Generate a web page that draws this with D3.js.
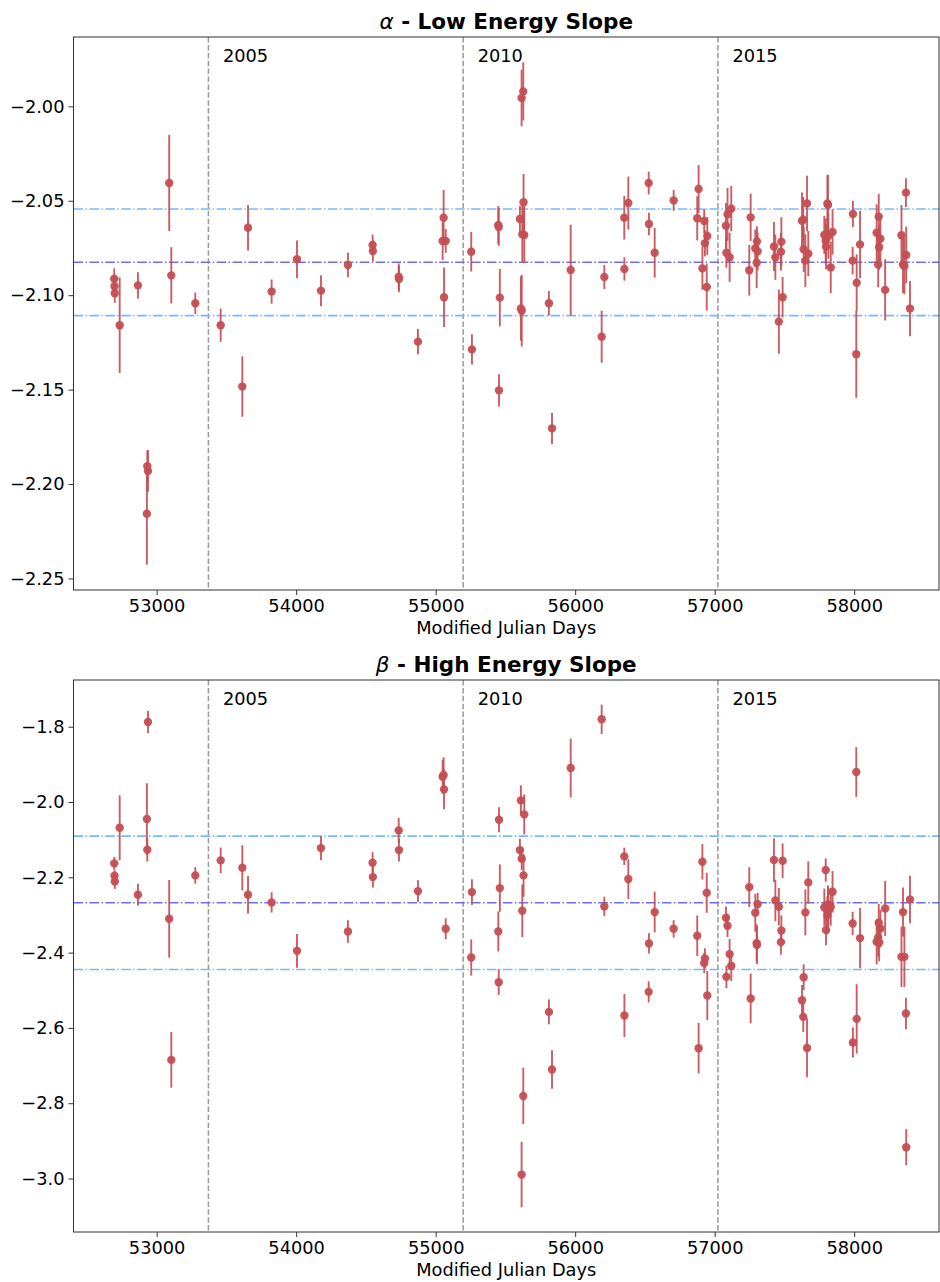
<!DOCTYPE html>
<html>
<head>
<meta charset="utf-8">
<script src="https://cdn.jsdelivr.net/npm/d3@7"></script>
<style>
  html, body { margin: 0; padding: 0; background: #fff; }
  svg text { font-family: "DejaVu Sans", sans-serif; }
</style>
</head>
<body>
<svg id="chart" width="940" height="1282"></svg>
<script>
// Observation epochs (MJD) with fitted low/high energy slopes and 1-sigma errors
const mjd = [
  52696, 52698, 52700, 52735, 52866, 52930, 52933, 52938, 53090, 53105,
  53277, 53459, 53614, 53655, 53824, 54006, 54178, 54371, 54548, 54550,
  54735, 54737, 54873, 55050, 55057, 55060, 55072, 55255, 55260, 55449,
  55452, 55454, 55460, 55604, 55611, 55616, 55617, 55621, 55628, 55630,
  55635, 55812, 55834, 55968, 56190, 56209, 56352, 56353, 56381, 56527,
  56529, 56570, 56706, 56875, 56885, 56912, 56925, 56930, 56943, 56947,
  57081, 57084, 57092, 57107, 57119, 57248, 57258, 57291, 57301, 57303,
  57308, 57425, 57435, 57460, 57475, 57478, 57487, 57626, 57635, 57638,
  57650, 57662, 57671, 57786, 57796, 57798, 57808, 57812, 57815, 57832,
  57845, 57989, 57991, 58015, 58018, 58042, 58161, 58172, 58176, 58179,
  58188, 58222, 58339, 58350, 58360, 58371, 58373, 58400
];

const alpha = [
  -2.0913, -2.0953, -2.0990, -2.1159, -2.0948, -2.2157, -2.1906, -2.1931, -2.0406, -2.0895,
  -2.1043, -2.1159, -2.1484, -2.0643, -2.0981, -2.0810, -2.0976, -2.0840, -2.0734, -2.0766,
  -2.0902, -2.0914, -2.1246, -2.0713, -2.0590, -2.1011, -2.0713, -2.0770, -2.1287, -2.0628,
  -2.0639, -2.1504, -2.1013, -2.0597, -2.1070, -1.9956, -2.1082, -2.0678, -1.9921, -2.0508,
  -2.0681, -2.1043, -2.1705, -2.0867, -2.1220, -2.0904, -2.0590, -2.0861, -2.0512, -2.0406,
  -2.0623, -2.0775, -2.0498, -2.0593, -2.0438, -2.0858, -2.0607, -2.0725, -2.0957, -2.0687,
  -2.0632, -2.0775, -2.0572, -2.0799, -2.0542, -2.0868, -2.0588, -2.0752, -2.0828, -2.0715,
  -2.0768, -2.0742, -2.0799, -2.1140, -2.0770, -2.0717, -2.1011, -2.0606, -2.0600, -2.0757,
  -2.0817, -2.0514, -2.0780, -2.0681, -2.0713, -2.0743, -2.0514, -2.0522, -2.0687, -2.0853,
  -2.0665, -2.0817, -2.0570, -2.1313, -2.0934, -2.0731, -2.0669, -2.0838, -2.0584, -2.0746,
  -2.0701, -2.0972, -2.0683, -2.0838, -2.0845, -2.0457, -2.0787, -2.1071
];

const alphaErr = [
  0.0055, 0.0050, 0.0050, 0.0253, 0.0070, 0.0270, 0.0085, 0.0110, 0.0254, 0.0149,
  0.0057, 0.0088, 0.0160, 0.0120, 0.0064, 0.0100, 0.0082, 0.0065, 0.0055, 0.0055,
  0.0070, 0.0070, 0.0067, 0.0100, 0.0147, 0.0157, 0.0063, 0.0105, 0.0080, 0.0100,
  0.0100, 0.0085, 0.0152, 0.0070, 0.0170, 0.0150, 0.0190, 0.0150, 0.0154, 0.0150,
  0.0150, 0.0065, 0.0083, 0.0240, 0.0138, 0.0064, 0.0115, 0.0062, 0.0140, 0.0060,
  0.0060, 0.0132, 0.0055, 0.0117, 0.0127, 0.0113, 0.0065, 0.0070, 0.0124, 0.0100,
  0.0120, 0.0080, 0.0140, 0.0130, 0.0120, 0.0134, 0.0125, 0.0100, 0.0135, 0.0080,
  0.0100, 0.0130, 0.0120, 0.0170, 0.0100, 0.0130, 0.0107, 0.0150, 0.0120, 0.0120,
  0.0140, 0.0147, 0.0120, 0.0100, 0.0120, 0.0120, 0.0150, 0.0160, 0.0120, 0.0136,
  0.0120, 0.0073, 0.0070, 0.0230, 0.0150, 0.0178, 0.0150, 0.0120, 0.0120, 0.0120,
  0.0120, 0.0162, 0.0160, 0.0150, 0.0150, 0.0076, 0.0150, 0.0146
];

const beta = [
  -2.1630, -2.1960, -2.2109, -2.0684, -2.2464, -2.0453, -2.1269, -1.7875, -2.3102, -2.6849,
  -2.1949, -2.1550, -2.1747, -2.2464, -2.2667, -2.3953, -2.1224, -2.3438, -2.1614, -2.1994,
  -2.0753, -2.1277, -2.2366, -1.9330, -1.9284, -1.9664, -2.3368, -2.4128, -2.2393, -2.3438,
  -2.4785, -2.0471, -2.2287, -2.1277, -1.9956, -2.9895, -2.1508, -2.2890, -2.7806, -2.1949,
  -2.0328, -2.5574, -2.7106, -1.9098, -1.7803, -2.2773, -2.1444, -2.5670, -2.2047, -2.5042,
  -2.3756, -2.2924, -2.3368, -2.3554, -2.6538, -2.1588, -2.4280, -2.4155, -2.2411, -2.5138,
  -2.3076, -2.4643, -2.3288, -2.4040, -2.4351, -2.2260, -2.5218, -2.2943, -2.3748, -2.3801,
  -2.2712, -2.1542, -2.2614, -2.2783, -2.3722, -2.3411, -2.1561, -2.5263, -2.5707, -2.4652,
  -2.2932, -2.6531, -2.2135, -2.2800, -2.1808, -2.3403, -2.3000, -2.2720, -2.2871, -2.2783,
  -2.2385, -2.3225, -2.6387, -1.9204, -2.5760, -2.3615, -2.3714, -2.3600, -2.3209, -2.3730,
  -2.3358, -2.2826, -2.4112, -2.2924, -2.4112, -2.5617, -2.9169, -2.2587
];

const betaErr = [
  0.017, 0.015, 0.020, 0.086, 0.029, 0.095, 0.031, 0.029, 0.103, 0.074,
  0.022, 0.034, 0.060, 0.050, 0.027, 0.045, 0.032, 0.030, 0.028, 0.028,
  0.033, 0.030, 0.029, 0.045, 0.047, 0.053, 0.028, 0.048, 0.034, 0.053,
  0.034, 0.033, 0.063, 0.030, 0.040, 0.087, 0.030, 0.070, 0.075, 0.057,
  0.053, 0.033, 0.051, 0.078, 0.039, 0.026, 0.023, 0.057, 0.053, 0.028,
  0.027, 0.054, 0.023, 0.054, 0.067, 0.047, 0.027, 0.027, 0.053, 0.065,
  0.030, 0.030, 0.030, 0.040, 0.040, 0.053, 0.066, 0.050, 0.050, 0.050,
  0.030, 0.058, 0.055, 0.050, 0.033, 0.040, 0.046, 0.040, 0.040, 0.034,
  0.061, 0.078, 0.056, 0.050, 0.031, 0.040, 0.050, 0.050, 0.060, 0.050,
  0.055, 0.031, 0.040, 0.066, 0.092, 0.080, 0.060, 0.050, 0.050, 0.050,
  0.050, 0.073, 0.080, 0.065, 0.080, 0.042, 0.048, 0.063
];

// Calendar year boundaries (MJD of 1 January)
const yearLabels = ["2005", "2010", "2015"];
const yearMjd = [53371, 55197, 57023];

// Sample mean and ±1 standard deviation of each slope
const alphaStats = [-2.0826, 0.0282];
const betaStats = [-2.2677, 0.1771];

const xTicks = [53000, 54000, 55000, 56000, 57000, 58000];
const alphaTicks = [-2.25, -2.20, -2.15, -2.10, -2.05, -2.00];
const betaTicks = [-3.0, -2.8, -2.6, -2.4, -2.2, -2.0, -1.8];

const svg = d3.select("#chart");
const left = 73.5, right = 939;
const markerColor = "#c44e52";
const labelSize = 17.8;

const x = d3.scaleLinear().domain([52404, 58608]).range([left, right]);

function panel(cfg) {
  const g = svg.append("g");
  const y = d3.scaleLinear().domain(cfg.domain).range([cfg.bottom, cfg.top]);

  // year separators
  g.selectAll("line.year").data(yearMjd).join("line")
    .attr("x1", d => x(d)).attr("x2", d => x(d))
    .attr("y1", cfg.top).attr("y2", cfg.bottom)
    .attr("stroke", "#999999").attr("stroke-width", 1.5)
    .attr("stroke-dasharray", "5.5,2.4");
  g.selectAll("text.year").data(yearMjd).join("text")
    .attr("x", d => x(d) + 14.5).attr("y", cfg.top + 24.5)
    .attr("font-size", labelSize).attr("fill", "#000")
    .text((d, i) => yearLabels[i]);

  // mean and ±1 sigma levels
  const [m, s] = cfg.stats;
  const levels = [
    { v: m + s, c: "#7ab8fc" },
    { v: m - s, c: "#7ab8fc" },
    { v: m, c: "#6c6cf6" }
  ];
  g.selectAll("line.level").data(levels).join("line")
    .attr("x1", left).attr("x2", right)
    .attr("y1", d => y(d.v)).attr("y2", d => y(d.v))
    .attr("stroke", d => d.c).attr("stroke-width", 1.6)
    .attr("stroke-dasharray", "9.6,2.4,1.5,2.4");

  const pts = mjd.map((d, i) => ({ t: d, v: cfg.values[i], e: cfg.errors[i] }));

  // error bars
  g.selectAll("line.err").data(pts).join("line")
    .attr("x1", d => x(d.t)).attr("x2", d => x(d.t))
    .attr("y1", d => y(d.v - d.e)).attr("y2", d => y(d.v + d.e))
    .attr("stroke", markerColor).attr("stroke-width", 1.9)
    .attr("opacity", 0.9);
  // points
  g.selectAll("circle.pt").data(pts).join("circle")
    .attr("cx", d => x(d.t)).attr("cy", d => y(d.v)).attr("r", 4.2)
    .attr("fill", markerColor).attr("opacity", 0.95);

  // axes
  const xAxis = g.append("g").attr("transform", `translate(0,${cfg.bottom})`)
    .call(d3.axisBottom(x).tickValues(xTicks).tickFormat(d3.format("d")).tickSize(5).tickPadding(4));
  const yAxis = g.append("g").attr("transform", `translate(${left},0)`)
    .call(d3.axisLeft(y).tickValues(cfg.ticks).tickFormat(d3.format(cfg.fmt)).tickSize(5).tickPadding(4));
  [xAxis, yAxis].forEach(a => {
    a.select(".domain").remove();
    a.selectAll(".tick line").attr("stroke", "#333").attr("stroke-width", 1);
    a.selectAll(".tick text").attr("font-size", labelSize).attr("fill", "#000")
      .attr("font-family", "DejaVu Sans, sans-serif");
  });

  // frame
  g.append("rect").attr("x", left).attr("y", cfg.top)
    .attr("width", right - left).attr("height", cfg.bottom - cfg.top)
    .attr("fill", "none").attr("stroke", "#333").attr("stroke-width", 1);

  // title
  const title = g.append("text").attr("x", (left + right) / 2).attr("y", cfg.top - 8)
    .attr("text-anchor", "middle").attr("font-size", 21.5).attr("fill", "#000");
  title.append("tspan").attr("font-style", "italic").text(cfg.symbol);
  title.append("tspan").attr("font-weight", "bold").text(" - " + cfg.title);

  // x label
  g.append("text").attr("x", (left + right) / 2).attr("y", cfg.bottom + 44)
    .attr("text-anchor", "middle").attr("font-size", labelSize).attr("fill", "#000")
    .text("Modified Julian Days");
}

panel({
  top: 37, bottom: 590, domain: [-2.2561, -1.9633],
  values: alpha, errors: alphaErr, stats: alphaStats,
  ticks: alphaTicks, fmt: ".2f", symbol: "α", title: "Low Energy Slope"
});
panel({
  top: 680, bottom: 1232, domain: [-3.142, -1.676],
  values: beta, errors: betaErr, stats: betaStats,
  ticks: betaTicks, fmt: ".1f", symbol: "β", title: "High Energy Slope"
});
</script>
</body>
</html>
